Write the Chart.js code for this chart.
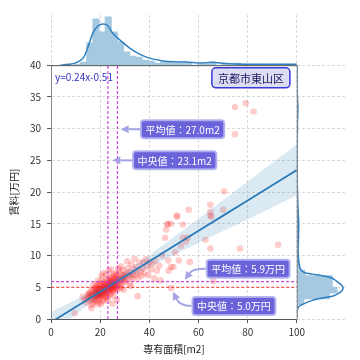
<!DOCTYPE html>
<html lang="ja">
<head>
<meta charset="utf-8">
<script src="https://cdn.jsdelivr.net/npm/chart.js@4.4.1/dist/chart.umd.min.js"></script>
<style>
html, body { margin: 0; padding: 0; background: #fff; }
#wrap { width: 360px; height: 360px; }
</style>
</head>
<body>
<div id="wrap"><canvas id="myChart" width="360" height="360"></canvas></div>
<script>
// 専有面積[m2] / 賃料[万円] の散布図 (京都市東山区)
const areaM2 = [
    9.6, 12.8, 13.5, 14.2, 14.8, 14.5, 16.4, 15.2, 15.6, 15.8, 16.0, 16.2, 16.5, 16.7, 16.9, 17.1, 17.2, 17.4, 17.6, 17.8, 17.9, 16.3, 15.4, 17.0,
    18.0, 18.1, 18.2, 18.3, 18.4, 18.5, 18.6, 18.7, 18.8, 18.9, 19.0, 19.1, 19.2, 19.3, 19.4, 19.5, 19.6, 19.7, 19.8, 19.9, 18.2, 19.0, 18.6,
    20.0, 20.1, 20.2, 20.3, 20.4, 20.5, 20.6, 20.7, 20.8, 20.9, 21.0, 21.1, 21.2, 21.3, 21.4, 21.5, 21.6, 21.7, 21.8, 21.9, 20.5, 21.2, 21.0, 20.3,
    22.0, 22.1, 22.2, 22.3, 22.4, 22.5, 22.6, 22.7, 22.8, 22.9, 23.0, 23.1, 23.2, 23.3, 23.4, 23.5, 23.6, 23.7, 23.8, 23.9, 22.3, 23.5, 23.0, 22.6, 23.9,
    24.0, 24.1, 24.2, 24.3, 24.4, 24.5, 24.6, 24.7, 24.8, 24.9, 25.0, 25.1, 25.2, 25.3, 25.4, 25.5, 25.6, 25.7, 25.8, 25.9, 24.3, 25.5, 25.0,
    26.0, 26.1, 26.2, 26.3, 26.4, 26.5, 26.6, 26.7, 26.8, 26.9, 27.0, 27.2, 27.4, 27.6, 27.8, 27.9, 26.8, 27.3,
    28.0, 28.2, 28.4, 28.6, 28.8, 29.0, 29.2, 29.4, 29.6, 29.8, 28.5, 29.5, 30.0, 30.3, 30.6, 30.9, 31.2, 31.5, 31.8, 32.1, 32.4, 32.7, 33.0, 31.0, 32.5,
    33.4, 33.8, 34.2, 34.6, 35.0, 35.2, 35.5, 36.0, 36.4, 36.8, 34.0, 37.2, 37.6, 38.0, 38.5, 39.0, 39.5, 40.0, 40.6, 41.2, 42.0, 42.4, 43.0, 44.0, 44.5,
    45.2, 46.4, 46.8, 47.2, 47.6, 48.8, 47.6, 48.8, 49.8, 47.8, 48.8, 51.2, 51.2, 53.6, 53.6, 55.6, 54.8, 52.8, 56.0, 56.4, 62.8, 64.8, 64.8, 64.8,
    64.8, 65.2, 70.0, 70.4, 66.0, 74.8, 79.2, 82.4, 74.8, 76.8, 92.4, 50.5, 52.0
];
const rentMan = [
    0.9, 3.5, 3.0, 2.6, 3.8, 3.2, 1.7, 3.4, 4.1, 2.9, 3.6, 4.4, 3.1, 3.9, 4.6, 2.5, 3.5, 4.2, 3.0, 3.8, 4.9, 2.2, 3.9, 5.2,
    3.3, 4.0, 4.6, 3.7, 2.8, 4.3, 5.0, 3.5, 4.1, 4.8, 3.2, 3.9, 4.5, 5.3, 3.6, 4.2, 2.6, 4.7, 3.9, 5.6, 5.5, 6.0, 2.3,
    4.1, 3.4, 4.8, 5.2, 3.8, 4.5, 6.1, 4.0, 5.0, 3.6, 4.4, 5.5, 4.2, 3.1, 4.9, 5.8, 4.6, 3.9, 5.3, 4.3, 6.8, 7.2, 2.8, 2.4,
    4.7, 5.1, 3.7, 5.6, 4.4, 6.2, 4.9, 4.1, 5.4, 3.5, 5.0, 4.6, 6.0, 5.2, 4.3, 5.7, 4.8, 6.5, 5.0, 4.0, 7.0, 7.6, 2.9, 3.3, 5.9,
    5.4, 4.6, 6.1, 5.0, 3.9, 5.8, 4.9, 6.6, 5.3, 4.4, 5.6, 6.3, 4.8, 5.2, 7.0, 4.5, 5.9, 5.4, 6.8, 4.7, 7.8, 3.6, 2.4,
    5.6, 6.4, 4.9, 5.9, 7.2, 5.3, 6.1, 4.6, 5.7, 6.8, 5.1, 6.3, 5.5, 7.5, 6.0, 4.8, 3.0, 8.0,
    6.4, 5.4, 7.0, 6.1, 5.0, 6.6, 7.7, 5.8, 6.9, 6.2, 8.3, 4.6, 6.8, 5.9, 7.3, 6.4, 8.0, 6.9, 5.6, 7.4, 6.6, 8.6, 7.0, 9.1, 5.2,
    6.3, 7.8, 6.9, 8.2, 7.3, 3.6, 6.5, 8.9, 7.5, 6.8, 9.5, 8.0, 8.9, 7.2, 9.4, 8.3, 6.9, 9.0, 7.8, 8.6, 6.4, 9.2, 7.6, 8.4, 6.1,
    10.0, 12.8, 14.1, 14.9, 15.0, 15.0, 9.2, 8.2, 8.2, 7.6, 4.9, 16.3, 16.1, 14.9, 12.8, 12.8, 12.2, 11.5, 17.2, 9.0, 12.5, 18.0, 16.9, 16.3,
    11.1, 16.1, 17.2, 20.1, 6.0, 33.4, 34.0, 32.7, 29.1, 11.1, 11.7, 10.5, 9.2
];

// 回帰直線 y=0.24x-0.51 と信頼区間
const bandX  = [0, 10, 20, 30, 40, 50, 60, 70, 80, 90, 100];
const regY   = [-0.51, 1.89, 4.29, 6.69, 9.09, 11.49, 13.89, 16.29, 18.69, 21.09, 23.49];
const bandHi = [1.09, 3.02, 5.05, 7.36, 10.06, 12.91, 15.81, 18.73, 21.65, 24.60, 27.49];
const bandLo = [-2.11, 0.76, 3.53, 6.02, 8.12, 10.07, 11.97, 13.85, 15.73, 17.58, 19.49];

// 上側ヒストグラム (専有面積)
const areaBins   = [10.75, 13.25, 15.75, 18.25, 20.75, 23.25, 25.75, 28.25, 30.75, 33.25, 35.75, 38.25, 40.75, 43.25, 45.75, 48.25, 50.75,
                    53.25, 55.75, 58.25, 60.75, 63.25, 65.75, 68.25, 70.75, 73.25, 75.75, 78.25, 80.75, 83.25, 85.75, 88.25, 90.75, 93.25];
const areaCounts = [1, 3, 22, 46, 33, 48, 33, 23, 13, 9, 8, 5, 4, 2, 3, 3, 2,
                    2, 2, 0, 1, 1, 3, 0, 1, 0, 2, 1, 0, 1, 0, 0, 0, 1];
const areaKdeX = [3.6, 7, 10, 13, 15, 17, 19, 21, 23, 25, 28, 32, 36, 40, 45, 50, 55, 60, 63, 66, 69, 72, 80, 90, 100];
const areaKdeY = [0, 0.8, 2.3, 7, 18, 32, 39, 41, 39.5, 32, 25, 17, 11, 7, 4.5, 3.3, 3.2, 2.2, 2.3, 3, 2.2, 1.3, 1, 1, 1];

// 右側ヒストグラム (賃料)
const rentBins   = [1.85, 2.75, 3.65, 4.55, 5.45, 6.35, 7.25, 8.15, 9.05, 9.95, 10.85, 11.75, 12.65, 13.55, 14.45, 15.35, 16.25, 17.15, 18.05, 19.85, 29.75, 32.45, 33.35];
const rentCounts = [1, 7, 33, 41, 36, 36, 8, 3, 2, 1, 1, 2, 2, 1, 2, 2, 1, 1, 1, 1, 1, 1, 1];
const rentKdeY = [0.5, 1.0, 1.6, 2.0, 2.3, 2.85, 3.2, 3.64, 4.0, 4.5, 4.95, 5.4, 5.9, 6.5, 6.8, 7.07, 7.3, 7.6, 8.0, 8.4, 9, 10, 11, 12, 13, 14, 15, 16, 17, 18, 20, 23, 26, 29, 32, 33.5, 35, 37, 40];
const rentKdeD = [0, 0.2, 0.7, 2.5, 5.7, 14, 22, 37, 42, 46, 47, 45, 41, 35, 26, 16, 8, 5, 3.5, 2.6, 2, 1.5, 1.2, 1.3, 1.6, 1.8, 1.8, 1.6, 1.3, 1.0, 0.6, 0.4, 0.3, 0.4, 0.8, 1.0, 0.6, 0.2, 0.1];

// 平均値・中央値
const meanArea = 27.0, medianArea = 23.1;
const meanRent = 5.9, medianRent = 5.0;

const notes = [
    { text: '平均値：' + meanArea.toFixed(1) + 'm2', at: [53.5, 29.9], tip: [28.3, 29.9] },
    { text: '中央値：' + medianArea.toFixed(1) + 'm2', at: [50.3, 25.0], tip: [24.9, 25.0] },
    { text: '平均値：' + meanRent.toFixed(1) + '万円', at: [80.2, 7.9], tip: [54.4, 6.2], bend: 0.35 },
    { text: '中央値：' + medianRent.toFixed(1) + '万円', at: [74.4, 2.05], tip: [49.6, 4.3], bend: 0.35 },
];

const FONT = '"Noto Sans CJK JP", "Noto Sans", sans-serif';
Chart.defaults.font.family = FONT;
Chart.defaults.font.size = 10;
Chart.defaults.color = '#333';

function roundRect(ctx, x, y, w, h, r) {
    ctx.beginPath();
    ctx.moveTo(x + r, y);
    ctx.arcTo(x + w, y, x + w, y + h, r);
    ctx.arcTo(x + w, y + h, x, y + h, r);
    ctx.arcTo(x, y + h, x, y, r);
    ctx.arcTo(x, y, x + w, y, r);
    ctx.closePath();
}

function drawArrow(ctx, sx, sy, tx, ty, c) {
    ctx.strokeStyle = 'rgba(160,160,228,0.95)';
    ctx.fillStyle = 'rgba(160,160,228,0.95)';
    ctx.lineWidth = 2;
    const fx = c ? c.x : sx, fy = c ? c.y : sy;
    const ang = Math.atan2(ty - fy, tx - fx);
    const hl = 8, hw = 4;
    const bx = tx - hl * Math.cos(ang), by = ty - hl * Math.sin(ang);
    ctx.beginPath();
    ctx.moveTo(sx, sy);
    if (c) ctx.quadraticCurveTo(c.x, c.y, bx, by); else ctx.lineTo(bx, by);
    ctx.stroke();
    ctx.beginPath();
    ctx.moveTo(tx, ty);
    ctx.lineTo(bx + hw * Math.sin(ang), by - hw * Math.cos(ang));
    ctx.lineTo(bx - hw * Math.sin(ang), by + hw * Math.cos(ang));
    ctx.closePath();
    ctx.fill();
}

const notePlugin = {
    id: 'notes',
    afterDatasetsDraw(chart) {
        const { ctx } = chart;
        const x = chart.scales.x, y = chart.scales.y;
        ctx.save();
        // 枠線 (上・右)
        ctx.lineWidth = 1;
        ctx.strokeStyle = '#555';
        ctx.beginPath(); ctx.moveTo(x.left, y.top + 0.5); ctx.lineTo(x.right, y.top + 0.5); ctx.stroke();
        ctx.strokeStyle = '#888';
        ctx.beginPath(); ctx.moveTo(x.right + 0.5, y.top); ctx.lineTo(x.right + 0.5, y.bottom); ctx.stroke();

        ctx.font = '10px ' + FONT;
        ctx.textBaseline = 'middle';
        ctx.textAlign = 'center';
        notes.forEach(n => {
            const cx = x.getPixelForValue(n.at[0]);
            const cy = y.getPixelForValue(n.at[1]);
            const w = ctx.measureText(n.text).width + 9;
            const h = 18;
            const left = cx - w / 2;
            const tx = x.getPixelForValue(n.tip[0]);
            const ty = y.getPixelForValue(n.tip[1]);
            const c = n.bend ? { x: tx + (left - tx) * n.bend, y: cy } : null;
            drawArrow(ctx, left - 1, cy, tx, ty, c);
            roundRect(ctx, left, cy - h / 2, w, h, 3);
            ctx.fillStyle = '#6a63da';
            ctx.fill();
            ctx.strokeStyle = 'rgba(176,176,240,0.9)';
            ctx.lineWidth = 2;
            ctx.stroke();
            ctx.fillStyle = '#fff';
            ctx.fillText(n.text, cx, cy + 0.5);
        });

        // 地域名
        ctx.font = '11px ' + FONT;
        const ax = x.getPixelForValue(81.3), ay = y.getPixelForValue(38.0);
        const aw = ctx.measureText('京都市東山区').width + 12;
        roundRect(ctx, ax - aw / 2, ay - 10, aw, 20, 4);
        ctx.fillStyle = '#dcdcf3';
        ctx.fill();
        ctx.strokeStyle = '#3a3ad8';
        ctx.lineWidth = 1.5;
        ctx.stroke();
        ctx.fillStyle = '#1a1a60';
        ctx.fillText('京都市東山区', ax, ay + 0.5);

        // 回帰式
        ctx.font = '10px ' + FONT;
        ctx.textAlign = 'left';
        ctx.fillStyle = '#3434c8';
        ctx.fillText('y=0.24x-0.51', x.getPixelForValue(1.6), y.getPixelForValue(38.05));
        ctx.restore();
    }
};

const pts = (xs, ys) => xs.map((v, i) => ({ x: v, y: ys[i] }));
const gridOpts = { color: '#cfcfcf', lineWidth: 0.8, tickLength: 4, tickColor: '#555', tickWidth: 1, offset: false };
const lineOpts = { type: 'line', pointRadius: 0, fill: false, xAxisID: 'x', yAxisID: 'y' };
const barOpts = { type: 'bar', backgroundColor: '#a6c9e2', borderWidth: 0, inflateAmount: 0.5,
                  barPercentage: 1, categoryPercentage: 1, grouped: false, order: 6 };

new Chart(document.getElementById('myChart'), {
    type: 'scatter',
    data: {
        datasets: [
            { ...lineOpts, data: [{ x: meanArea, y: 0 }, { x: meanArea, y: 40 }], borderColor: 'rgba(200,50,215,0.9)', borderWidth: 1.2, borderDash: [3, 2], order: 1 },
            { ...lineOpts, data: [{ x: medianArea, y: 0 }, { x: medianArea, y: 40 }], borderColor: 'rgba(200,50,215,0.9)', borderWidth: 1.2, borderDash: [3, 2], order: 1 },
            { ...lineOpts, data: [{ x: 0, y: meanRent }, { x: 100, y: meanRent }], borderColor: 'rgba(200,50,215,0.9)', borderWidth: 1.2, borderDash: [3, 2], order: 1 },
            { ...lineOpts, data: [{ x: 0, y: medianRent }, { x: 100, y: medianRent }], borderColor: 'rgba(255,30,30,0.9)', borderWidth: 1.2, borderDash: [3, 2], order: 1 },
            { ...lineOpts, data: pts(bandX, regY), borderColor: '#2a7ab8', borderWidth: 1.8, order: 2 },
            { ...lineOpts, data: pts(bandX, bandLo), borderWidth: 0, borderColor: 'rgba(0,0,0,0)', cubicInterpolationMode: 'monotone', order: 3 },
            { ...lineOpts, data: pts(bandX, bandHi), borderWidth: 0, borderColor: 'rgba(0,0,0,0)', cubicInterpolationMode: 'monotone', fill: '-1', backgroundColor: 'rgba(31,119,180,0.16)', order: 3 },
            { type: 'scatter', data: pts(areaM2, rentMan), xAxisID: 'x', yAxisID: 'y', pointRadius: 3.3, borderWidth: 0, backgroundColor: 'rgba(255,0,0,0.2)', order: 4 },
            { ...lineOpts, yAxisID: 'yt', data: pts(areaKdeX, areaKdeY), borderColor: '#2f7fc1', borderWidth: 1.5, tension: 0.35, order: 5 },
            { ...lineOpts, xAxisID: 'xr', data: pts(rentKdeD, rentKdeY), borderColor: '#2f7fc1', borderWidth: 1.5, tension: 0.35, order: 5 },
            { ...barOpts, data: pts(areaBins, areaCounts), xAxisID: 'x', yAxisID: 'yt' },
            { ...barOpts, indexAxis: 'y', data: rentBins.map((v, i) => ({ x: rentCounts[i], y: v })), xAxisID: 'xr', yAxisID: 'y' },
        ]
    },
    options: {
        responsive: false,
        animation: false,
        events: [],
        layout: { padding: { top: 15, right: 15, left: 4, bottom: 3 } },
        plugins: { legend: { display: false }, tooltip: { enabled: false } },
        scales: {
            x: {
                type: 'linear', position: 'bottom', stack: 'h', stackWeight: 250, min: 0, max: 100, offset: false,
                ticks: { stepSize: 20, padding: 3, color: '#333', maxRotation: 0, autoSkip: false },
                grid: gridOpts,
                border: { display: true, color: '#555', width: 1, dash: [3, 2] },
                title: { display: true, text: '専有面積[m2]', color: '#222', font: { size: 10 }, padding: { top: 2, bottom: 2 } }
            },
            xr: {
                type: 'linear', position: 'bottom', stack: 'h', stackWeight: 49, min: 0, max: 49, offset: false,
                ticks: { display: false }, grid: { display: false, drawTicks: false, offset: false }, border: { display: false }
            },
            y: {
                type: 'linear', position: 'left', stack: 'v', stackWeight: 253, min: 0, max: 40, offset: false,
                ticks: { stepSize: 5, padding: 6, color: '#333', autoSkip: false },
                grid: gridOpts,
                border: { display: true, color: '#888', width: 1, dash: [3, 2] },
                title: { display: true, text: '賃料[万円]', color: '#222', font: { size: 10 }, padding: { top: 4, bottom: 4 } }
            },
            yt: {
                type: 'linear', position: 'left', stack: 'v', stackWeight: 50, min: 0, max: 50, offset: false,
                ticks: { display: false }, grid: { display: false, drawTicks: false, offset: false }, border: { display: false }
            }
        }
    },
    plugins: [notePlugin]
});
</script>
</body>
</html>
